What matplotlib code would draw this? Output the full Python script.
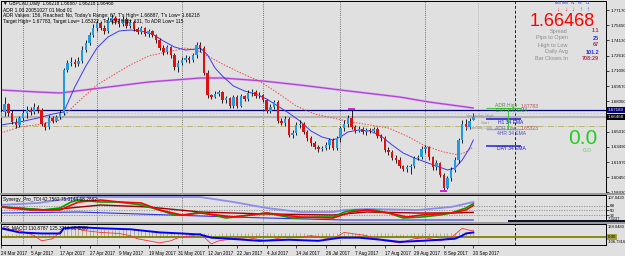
import matplotlib
matplotlib.use("Agg")
import matplotlib.pyplot as plt
from matplotlib.patches import Rectangle
from matplotlib.transforms import blended_transform_factory
import numpy as np

plt.rcParams['font.family'] = ['Liberation Sans', 'DejaVu Sans']

# ---------------- DATA ----------------
header_line = "\u25BC GBPCAD,Daily  1.66218 1.66887 1.66218 1.66468"
adr_lines = ["ADR 1.00 20051027 01 Mod 01",
             "ADR Values: 156, Reached: No, Today's Range: 67, T's High= 1.66887, T's Low= 1.66218",
             "Target High= 1.67783, Target Low= 1.65322 ; To ADR High: 131, To ADR Low= 115"]

opens = [1.6637, 1.6697, 1.6777, 1.6687, 1.6597, 1.6567, 1.6637, 1.6687, 1.6717, 1.6697,
         1.6747, 1.6717, 1.6577, 1.6547, 1.6637, 1.6607, 1.6647, 1.6687, 1.7117, 1.7187,
         1.7197, 1.7177, 1.7207, 1.7317, 1.7387, 1.7467, 1.7537, 1.7587, 1.7537, 1.7507,
         1.7617, 1.7637, 1.7607, 1.7577, 1.7627, 1.7557, 1.7597, 1.7527, 1.7497, 1.7537,
         1.7477, 1.7507, 1.7467, 1.7417, 1.7337, 1.7297, 1.7347, 1.7267, 1.7147, 1.7187,
         1.7217, 1.7237, 1.7217, 1.7267, 1.7367, 1.7337, 1.7087, 1.6867, 1.6847, 1.6877,
         1.6897, 1.6817, 1.6837, 1.6757, 1.6847, 1.6757, 1.6857, 1.6827, 1.6887, 1.6897,
         1.6857, 1.6867, 1.6817, 1.6707, 1.6747, 1.6797, 1.6607, 1.6587, 1.6627, 1.6467,
         1.6487, 1.6567, 1.6577, 1.6497, 1.6437, 1.6387, 1.6347, 1.6327, 1.6337, 1.6367,
         1.6417, 1.6337, 1.6437, 1.6537, 1.6577, 1.6637, 1.6547, 1.6507, 1.6527, 1.6497,
         1.6517, 1.6507, 1.6527, 1.6457, 1.6437, 1.6317, 1.6297, 1.6237, 1.6217, 1.6157,
         1.6127, 1.6147, 1.6157, 1.6237, 1.6247, 1.6327, 1.6347, 1.6247, 1.6147, 1.6187,
         1.6067, 1.5937, 1.6037, 1.6117, 1.6217, 1.6417, 1.6577, 1.6547, 1.6622]
highs = [1.6737, 1.6847, 1.6787, 1.6717, 1.6637, 1.6657, 1.6717, 1.6757, 1.6747, 1.6787,
         1.6767, 1.6737, 1.6597, 1.6667, 1.6657, 1.6667, 1.6717, 1.7137, 1.7217, 1.7247,
         1.7227, 1.7247, 1.7357, 1.7417, 1.7497, 1.7577, 1.7617, 1.7607, 1.7567, 1.7647,
         1.7677, 1.7657, 1.7637, 1.7657, 1.7647, 1.7627, 1.7617, 1.7547, 1.7557, 1.7547,
         1.7527, 1.7517, 1.7477, 1.7437, 1.7367, 1.7367, 1.7357, 1.7287, 1.7217, 1.7247,
         1.7267, 1.7257, 1.7287, 1.7397, 1.7397, 1.7357, 1.7117, 1.6877, 1.6907, 1.6917,
         1.6907, 1.6857, 1.6847, 1.6867, 1.6867, 1.6877, 1.6867, 1.6917, 1.6927, 1.6917,
         1.6897, 1.6877, 1.6827, 1.6777, 1.6817, 1.6817, 1.6637, 1.6657, 1.6647, 1.6517,
         1.6597, 1.6617, 1.6597, 1.6517, 1.6457, 1.6407, 1.6367, 1.6357, 1.6397, 1.6437,
         1.6437, 1.6457, 1.6557, 1.6617, 1.6667, 1.6717, 1.6567, 1.6557, 1.6547, 1.6537,
         1.6537, 1.6547, 1.6547, 1.6477, 1.6457, 1.6347, 1.6317, 1.6267, 1.6247, 1.6167,
         1.6167, 1.6177, 1.6257, 1.6267, 1.6357, 1.6367, 1.6357, 1.6257, 1.6217, 1.6197,
         1.6087, 1.6057, 1.6147, 1.6247, 1.6437, 1.6617, 1.6627, 1.6637, 1.6689]
lows = [1.6617, 1.6657, 1.6657, 1.6577, 1.6537, 1.6547, 1.6617, 1.6637, 1.6667, 1.6677,
        1.6687, 1.6557, 1.6517, 1.6527, 1.6587, 1.6597, 1.6627, 1.6667, 1.7097, 1.7157,
        1.7147, 1.7157, 1.7187, 1.7297, 1.7367, 1.7447, 1.7507, 1.7517, 1.7477, 1.7487,
        1.7577, 1.7577, 1.7547, 1.7557, 1.7537, 1.7537, 1.7507, 1.7477, 1.7477, 1.7457,
        1.7447, 1.7447, 1.7387, 1.7317, 1.7267, 1.7277, 1.7237, 1.7117, 1.7097, 1.7167,
        1.7197, 1.7187, 1.7197, 1.7237, 1.7297, 1.7067, 1.6837, 1.6827, 1.6837, 1.6857,
        1.6787, 1.6787, 1.6737, 1.6737, 1.6737, 1.6747, 1.6807, 1.6807, 1.6857, 1.6837,
        1.6837, 1.6797, 1.6687, 1.6687, 1.6727, 1.6587, 1.6567, 1.6557, 1.6447, 1.6437,
        1.6467, 1.6537, 1.6477, 1.6407, 1.6357, 1.6327, 1.6297, 1.6307, 1.6317, 1.6327,
        1.6317, 1.6317, 1.6397, 1.6507, 1.6547, 1.6527, 1.6487, 1.6497, 1.6477, 1.6467,
        1.6487, 1.6497, 1.6437, 1.6407, 1.6297, 1.6267, 1.6217, 1.6187, 1.6137, 1.6107,
        1.6097, 1.6077, 1.6137, 1.6217, 1.6227, 1.6287, 1.6217, 1.6117, 1.6117, 1.6047,
        1.5917, 1.5927, 1.6007, 1.6097, 1.6187, 1.6387, 1.6517, 1.6527, 1.6622]
closes = [1.6697, 1.6777, 1.6687, 1.6597, 1.6567, 1.6637, 1.6687, 1.6717, 1.6697, 1.6747,
          1.6717, 1.6577, 1.6547, 1.6637, 1.6607, 1.6647, 1.6687, 1.7117, 1.7187, 1.7197,
          1.7177, 1.7207, 1.7317, 1.7387, 1.7467, 1.7537, 1.7587, 1.7537, 1.7507, 1.7617,
          1.7637, 1.7607, 1.7577, 1.7627, 1.7557, 1.7597, 1.7527, 1.7497, 1.7537, 1.7477,
          1.7507, 1.7467, 1.7417, 1.7337, 1.7297, 1.7347, 1.7267, 1.7147, 1.7187, 1.7217,
          1.7237, 1.7217, 1.7267, 1.7367, 1.7337, 1.7087, 1.6867, 1.6847, 1.6877, 1.6897,
          1.6817, 1.6837, 1.6757, 1.6847, 1.6757, 1.6857, 1.6827, 1.6887, 1.6897, 1.6857,
          1.6867, 1.6817, 1.6707, 1.6747, 1.6797, 1.6607, 1.6587, 1.6627, 1.6467, 1.6487,
          1.6567, 1.6577, 1.6497, 1.6437, 1.6387, 1.6347, 1.6327, 1.6337, 1.6367, 1.6417,
          1.6337, 1.6437, 1.6537, 1.6577, 1.6637, 1.6547, 1.6507, 1.6527, 1.6497, 1.6517,
          1.6507, 1.6527, 1.6457, 1.6437, 1.6317, 1.6297, 1.6237, 1.6217, 1.6157, 1.6127,
          1.6147, 1.6157, 1.6237, 1.6247, 1.6327, 1.6347, 1.6247, 1.6147, 1.6187, 1.6067,
          1.5937, 1.6037, 1.6117, 1.6217, 1.6417, 1.6577, 1.6547, 1.6607, 1.6647]

date_bars = [0, 8, 16, 24, 32, 40, 48, 56, 64, 72, 80, 88, 96, 104, 112, 120, 128]
date_labels = ["24 Mar 2017", "5 Apr 2017", "17 Apr 2017", "27 Apr 2017", "9 May 2017",
               "19 May 2017", "31 May 2017", "12 Jun 2017", "22 Jun 2017", "4 Jul 2017",
               "14 Jul 2017", "26 Jul 2017", "7 Aug 2017", "17 Aug 2017", "29 Aug 2017",
               "8 Sep 2017", "20 Sep 2017"]
month_grid_bars = [6, 26, 49, 71, 92, 115]

price_ticks = [1.7717, 1.7565, 1.7413, 1.7261, 1.7109, 1.6957, 1.6805,
               1.6501, 1.6349, 1.6197, 1.6045, 1.5893]
bid_price = 1.66468
line_price = 1.67183

ema_fast_bars = [0, 5, 10, 14, 17, 20, 23, 26, 29, 32, 35, 38, 41, 44, 47, 50, 53, 54, 56, 58,
                 60, 63, 66, 69, 72, 75, 78, 81, 84, 87, 90, 92, 94, 97, 100, 103, 106, 109,
                 112, 115, 118, 121, 123, 125, 127, 128]
ema_fast_vals = [1.6567, 1.6597, 1.6637, 1.6677, 1.6697, 1.6947, 1.7157, 1.7337, 1.7447, 1.7507,
                 1.7517, 1.7507, 1.7477, 1.7407, 1.7347, 1.7317, 1.7327, 1.7337, 1.7267, 1.7137,
                 1.7057, 1.6957, 1.6907, 1.6877, 1.6827, 1.6757, 1.6687, 1.6607, 1.6507, 1.6447,
                 1.6417, 1.6447, 1.6497, 1.6517, 1.6507, 1.6457, 1.6367, 1.6287, 1.6237, 1.6197,
                 1.6157, 1.6117, 1.6137, 1.6217, 1.6337, 1.6417]
ema_slow_bars = [0, 5, 11, 16, 20, 23, 26, 30, 35, 40, 45, 50, 53, 56, 60, 65, 70, 75, 80, 85,
                 90, 95, 100, 105, 110, 115, 120, 124, 126, 128]
ema_slow_vals = [1.6487, 1.6547, 1.6577, 1.6617, 1.6767, 1.6867, 1.6967, 1.7057, 1.7167, 1.7257,
                 1.7297, 1.7337, 1.7317, 1.7257, 1.7177, 1.7087, 1.7007, 1.6887, 1.6757, 1.6677,
                 1.6637, 1.6597, 1.6567, 1.6537, 1.6457, 1.6357, 1.6297, 1.6267, 1.6297, 1.6347]
ema200_bars = [0, 10, 16, 27, 40, 54, 60, 71, 81, 92, 108, 116, 128]
ema200_vals = [1.6917, 1.6897, 1.6887, 1.6937, 1.6997, 1.7037, 1.7037, 1.7007, 1.6967, 1.6917,
               1.6847, 1.6797, 1.6737]

level_day200 = 1.6737
level_h1_34 = 1.6627
level_4h_34 = 1.6527
level_day34 = 1.6357
level_yest_high = 1.6692
level_yest_low = 1.6560
swing_high_bar, swing_low_bar = 95, 120

info_labels = ["Spread", "Pips to Open", "High to Low", "Daily Avg", "Bar Closes In"]
info_values = ["1.1", "25", "67", "101.2", "708:29"]
info_colors = ["#B0305A", "#2030E0", "#A03050", "#2030E0", "#B03050"]
tf_labels = ["M15", "M30", "H1", "H4", "D1"]
tf_arrows = ["\u2193", "\u2193", "\u2193", "\u2191", "\u2191"]

# TDI sub-window
tdi_title = "Synergy_Pro_TDI 42.7562 75.0144 68.2862"
tdi_levels = [68, 50, 32]
tdi_min, tdi_max = 7.3237, 107.0420
rsi_bars = [0, 5, 11, 16, 19, 21, 27, 32, 38, 43, 47, 50, 54, 61, 72, 79, 86, 90, 93, 96, 101,
            105, 109, 114, 119, 122, 126, 128]
rsi_vals = [62.7, 59.0, 51.6, 59.0, 81.2, 88.6, 81.2, 81.2, 70.1, 51.6, 33.2, 33.2, 44.2, 22.1,
            40.6, 22.1, 25.8, 25.8, 44.2, 51.6, 51.6, 40.6, 22.1, 25.8, 33.2, 40.6, 59.0, 75.0]
sig_bars = [0, 8, 16, 21, 27, 32, 38, 43, 49, 54, 63, 72, 81, 90, 95, 99, 105, 110, 114, 122, 126, 128]
sig_vals = [62.7, 51.6, 51.6, 81.2, 88.6, 81.2, 77.5, 51.6, 33.2, 40.6, 25.8, 40.6, 25.8, 22.1,
            44.2, 51.6, 40.6, 25.8, 33.2, 40.6, 51.6, 68.3]
base_bars = [0, 13, 27, 40, 54, 72, 90, 99, 113, 122, 128]
base_vals = [62.7, 51.6, 70.1, 62.7, 44.2, 36.9, 33.2, 44.2, 40.6, 40.6, 42.8]
up_bars = [0, 10, 21, 40, 54, 63, 72, 81, 90, 93, 99, 113, 122, 128]
up_vals = [70.1, 77.5, 99.6, 99.6, 99.6, 81.2, 59.0, 44.2, 44.2, 51.6, 55.3, 51.6, 62.7, 81.2]
lo_bars = [0, 21, 54, 72, 93, 113, 128]
lo_vals = [40.6, 44.2, 29.5, 22.1, 14.7, 14.7, 14.7]

# MACCI sub-window
mac_title = "SS_MACCI 110.8787 125.3316 68.0000"
mac_min, mac_max = -106.7316, 168.0483
mac_bars = [0, 5, 11, 16, 17, 21, 27, 35, 43, 49, 54, 57, 62, 70, 78, 86, 92, 97, 103, 108, 114,
            119, 123, 125, 126, 128]
mac_vals = [112, 58, 44, 44, 112, 126, 112, 99, 58, 44, 30, -11, -25, -52, -38, -52, -11, -11,
            -38, -66, -52, -38, -25, 16, 44, 58]
cci_bars = [0, 5, 9, 11, 14, 17, 20, 22, 27, 32, 35, 37, 40, 43, 46, 48, 52, 54, 57, 59, 63, 67,
            72, 76, 81, 84, 87, 90, 93, 95, 99, 104, 108, 112, 115, 119, 122, 125, 127, 128]
cci_vals = [112, 85, 16, -52, -25, 112, 126, 85, 58, 44, 16, -25, -52, -79, -52, -11, 16, 44, -93,
            -52, -25, -11, -52, -11, -11, 16, -11, -25, 58, 44, 16, -52, -79, -25, -11, -52, -11,
            112, 85, 85]
mac_hist = [40, 40, 42, 38, 35, 35, 38, 40, 42, 40, 38, 36, 35, 36, 38, 40, 42,
            95, 100, 105, 105, 102, 100, 100, 98, 100, 102, 100, 98, 96, 95, 95, 96, 98, 97, 95,
            92, 90, 90, 88, 85, 82, 80,
            48, 50, 52, 50, 48, 46, 45, 44, 45, 46,
            47, 48, 46, 44, 42, 40, 42, 44, 46, 48,
            48, 46, 45, 44, 45, 46, 47, 48, 47, 46,
            45, 44, 43, 44, 45, 46, 47, 46, 45, 44,
            43, 42, 43, 44, 46, 48, 50, 52, 54, 52,
            50, 48, 47, 46, 45, 44, 43, 42, 43, 44,
            45, 46, 45, 44, 43, 42, 41, 42, 43, 44,
            45, 47, 46, 48, 50, 49, 51, 53, 52, 54,
            55, 57, 56, 58, 57, 58]

# ---------------- LAYOUT ----------------
W, H = 625, 256
BG = '#E0E0E0'
fig = plt.figure(figsize=(W / 100, H / 100), dpi=100)
fig.patch.set_facecolor(BG)

PLOT_R = 606
BAR_PX = 3.69


def add_ax(x0, y0, x1, y1):
    ax = fig.add_axes([x0 / W, 1 - y1 / H, (x1 - x0) / W, (y1 - y0) / H])
    ax.set_facecolor(BG)
    for s in ax.spines.values():
        s.set_color('black')
        s.set_linewidth(0.7)
    ax.set_xlim(0, (x1 - x0) / BAR_PX)
    ax.tick_params(left=False, labelleft=False, bottom=False, labelbottom=False)
    return ax


def ftext(x, y, s, **kw):
    kw.setdefault('va', 'center')
    kw.setdefault('fontsize', 3.6)
    return fig.text(x / W, 1 - y / H, s, **kw)


main = add_ax(1, 1, PLOT_R, 193)
tdi = add_ax(1, 195, PLOT_R, 222)
mac = add_ax(1, 224, PLOT_R, 245)

main.set_ylim(1.5887, 1.7807)
tdi.set_ylim(tdi_min, tdi_max)
mac.set_ylim(mac_min, mac_max)

# separators
for yy in (193.2, 222.2):
    fig.patches.append(Rectangle((0, 1 - (yy + 1.8) / H), 1, 1.8 / H, transform=fig.transFigure,
                                 facecolor='#9A9A9A', edgecolor='none', zorder=5))

# vertical lines
for ax in (main, tdi, mac):
    for b in month_grid_bars:
        ax.axvline(b, color='#303030', lw=0.55, ls=(0, (1, 1.8)), zorder=1)
    ax.axvline(129.3, color='#A8A8A8', lw=0.6, ls=(0, (1, 1.5)), zorder=1)
    ax.axvline(139.3, color='#202020', lw=0.7, ls=(0, (3, 2)), zorder=1)

# ---------- main chart ----------
idx = np.arange(len(closes))
o = np.array(opens)
c = np.array(closes)
up = c >= o
main.axhline(level_yest_high, color='#D2D28A', lw=0.7, ls=(0, (2, 1.5)), zorder=1)
main.axhline(level_yest_low, color='#B8B878', lw=0.7, ls='-.', zorder=1)
main.axhline(bid_price - 0.0003, color='#B4B4B4', lw=1.6, zorder=1)
main.axhline(line_price, color='#000080', lw=0.9, zorder=2)

main.plot(ema200_bars, ema200_vals, color='#DDB0EE', lw=1.8, zorder=2, solid_capstyle='butt')
main.plot(ema200_bars, ema200_vals, color='#B040D8', lw=0.9, zorder=2)
main.plot(ema_slow_bars, ema_slow_vals, color='#F04848', lw=0.7, ls=(0, (1.5, 1.5)), zorder=2)
main.plot(ema_fast_bars, ema_fast_vals, color='#3A3AF0', lw=0.7, zorder=2)

main.vlines(idx, lows, highs, color='black', lw=0.6, zorder=3)
body_bottom = np.minimum(o, c)
body_h = np.maximum(np.abs(c - o), 0.0005)
main.bar(idx, body_h, bottom=body_bottom, width=0.66,
         color=np.where(up, '#1E9BE6', '#E01010'), edgecolor='none', zorder=4)

# swing markers
main.hlines(highs[swing_high_bar] + 0.0008, swing_high_bar - 1, swing_high_bar + 1,
            color='#D020D0', lw=1.4, zorder=5)
main.hlines(lows[swing_low_bar] - 0.0008, swing_low_bar - 1, swing_low_bar + 1,
            color='#D020D0', lw=1.4, zorder=5)

# right-side EMA/ADR objects
ox0, ox1 = 131.5, 140.8
main.hlines(level_day200, ox0, ox1, color='#40C840', lw=0.8, zorder=3)
main.hlines(level_h1_34, ox0, ox1, color='#2828D0', lw=1.2, zorder=3)
main.hlines(level_4h_34, ox0, ox1, color='#9C9CE8', lw=1.0, zorder=3)
main.hlines(level_day34, ox0, ox1, color='#3030E0', lw=1.2, zorder=3)
main.vlines(137.4, level_4h_34, level_day200, color='#40C840', lw=0.8, zorder=3)

# y axis
main.yaxis.tick_right()
main.set_yticks(price_ticks)
main.set_yticklabels([f"{p:.5f}" for p in price_ticks])
main.tick_params(axis='y', right=True, labelright=True, length=2, width=0.5, pad=1,
                 labelsize=3.2)
bt = blended_transform_factory(main.transAxes, main.transData)
main.text(1.003, line_price, f"{line_price:.5f}", transform=bt, fontsize=3.2, color='white',
          va='center', ha='left', zorder=10, clip_on=False,
          bbox=dict(boxstyle='square,pad=0.25', fc='#000080', ec='none'))
main.text(1.003, bid_price, f"{bid_price:.5f}", transform=bt, fontsize=3.2, color='white',
          va='center', ha='left', zorder=10, clip_on=False,
          bbox=dict(boxstyle='square,pad=0.25', fc='black', ec='none'))

# texts main
ftext(3, 4, header_line, fontsize=3.3)
for k, s in enumerate(adr_lines):
    ftext(3, 10 + 5.6 * k, s, fontsize=3.5)

ftext(495, 106, "ADR High", color='#5A8A3A', fontsize=3.6)
ftext(521, 106, "1.67783", color='#B05050', fontsize=3.6)
ftext(496, 111, "DAY 200 EMA", color='#20A020', fontsize=3.6)
ftext(498, 122, "H1 34 EMA", color='#2020C0', fontsize=3.6)
ftext(495, 129, "ADR Low", color='#7070A0', fontsize=3.6)
ftext(521, 129, "1.65323", color='#B05050', fontsize=3.6)
ftext(497, 133.5, "4HR 34 EMA", color='#5050C0', fontsize=3.6)
ftext(497, 149, "DAY 34 EMA", color='#2020C0', fontsize=3.6)
ftext(466, 116, "Yesterday High", color='#909090', fontsize=3.0)
ftext(481, 123, "Start", color='#909090', fontsize=3.0)
ftext(465, 128, "Yesterday Low", color='#909090', fontsize=3.0)

# info panel
for k, (lab, arr) in enumerate(zip(tf_labels, tf_arrows)):
    xx = 558 + 7.5 * k
    ftext(xx, 3.0, lab, color='#2030E0', fontsize=2.6, ha='center')
    ftext(xx, 9.5, arr, color='#E01010' if k < 3 else '#2030E0', fontsize=4.0, ha='center',
          fontweight='bold')
ftext(595, 21.5, "1.66468", color='#FF0000', fontsize=13, ha='right')
for k, (lab, val, col) in enumerate(zip(info_labels, info_values, info_colors)):
    yy = 31 + 7 * k
    ftext(568, yy, lab, color='#8A8A8A', fontsize=4.0, ha='right')
    ftext(599, yy, val, color=col, fontsize=4.0, ha='right', fontweight='bold')
ftext(583, 138, "0.0", color='#22CC22', fontsize=15, ha='center')
ftext(587, 151, "0.0", color='#66CC66', fontsize=4.5, ha='center')

# ---------- TDI ----------
for lv in tdi_levels:
    tdi.axhline(lv, color='#8C8C8C', lw=0.6, ls=(0, (1.5, 1.5)), zorder=1)
tdi.plot(up_bars, up_vals, color='#8C8CF0', lw=1.3, zorder=2)
tdi.plot(lo_bars, lo_vals, color='#3030F0', lw=0.8, zorder=2)
tdi.plot(base_bars, base_vals, color='#A00000', lw=1.0, zorder=3)
tdi.plot(rsi_bars, rsi_vals, color='#00A000', lw=1.2, zorder=4)
tdi.plot(sig_bars, sig_vals, color='#FF0000', lw=1.2, zorder=5)
tdi.yaxis.tick_right()
tdi.set_yticks(tdi_levels)
tdi.set_yticklabels([str(v) for v in tdi_levels])
tdi.tick_params(axis='y', right=True, labelright=True, length=2, width=0.5, pad=1, labelsize=3.2)
ftext(608, 198, f"{tdi_max:.4f}", fontsize=3.0)
ftext(608, 219, f"{tdi_min:.4f}", fontsize=3.0)
ftext(3, 199.5, tdi_title, fontsize=3.4)
fig.patches.append(Rectangle((508 / W, 1 - 222 / H), (W - 508) / W, 2 / H,
                             transform=fig.transFigure, facecolor='#0A1428',
                             edgecolor='none', zorder=6))

# ---------- MACCI ----------
mac.vlines(idx, 0, mac_hist, color='#A09A80', lw=0.5, zorder=1)
mac.axhline(0, color='#808000', lw=1.3, zorder=2)
mac.plot(cci_bars, cci_vals, color='#FF3030', lw=0.6, zorder=3)
mac.plot(mac_bars, mac_vals, color='#0000FF', lw=1.4, zorder=4)
ftext(3, 228, mac_title, fontsize=3.4)
ftext(607.5, 226.5, f"{mac_max:.4f}", fontsize=3.0)
ftext(607.5, 242, f"{mac_min:.4f}", fontsize=2.9)
mt = blended_transform_factory(mac.transAxes, mac.transData)
mac.text(1.003, 0, "0.00", transform=mt, fontsize=3.2, color='black', va='center', ha='left',
         clip_on=False, bbox=dict(boxstyle='square,pad=0.2', fc='#A0A040', ec='none'))

mac.set_xticks(date_bars)
mac.set_xticklabels(date_labels, ha='left')
mac.tick_params(axis='x', bottom=True, labelbottom=True, length=2, width=0.5, pad=2.5,
                labelsize=3.3)

fig.savefig("out.png", dpi=100, facecolor=BG)
